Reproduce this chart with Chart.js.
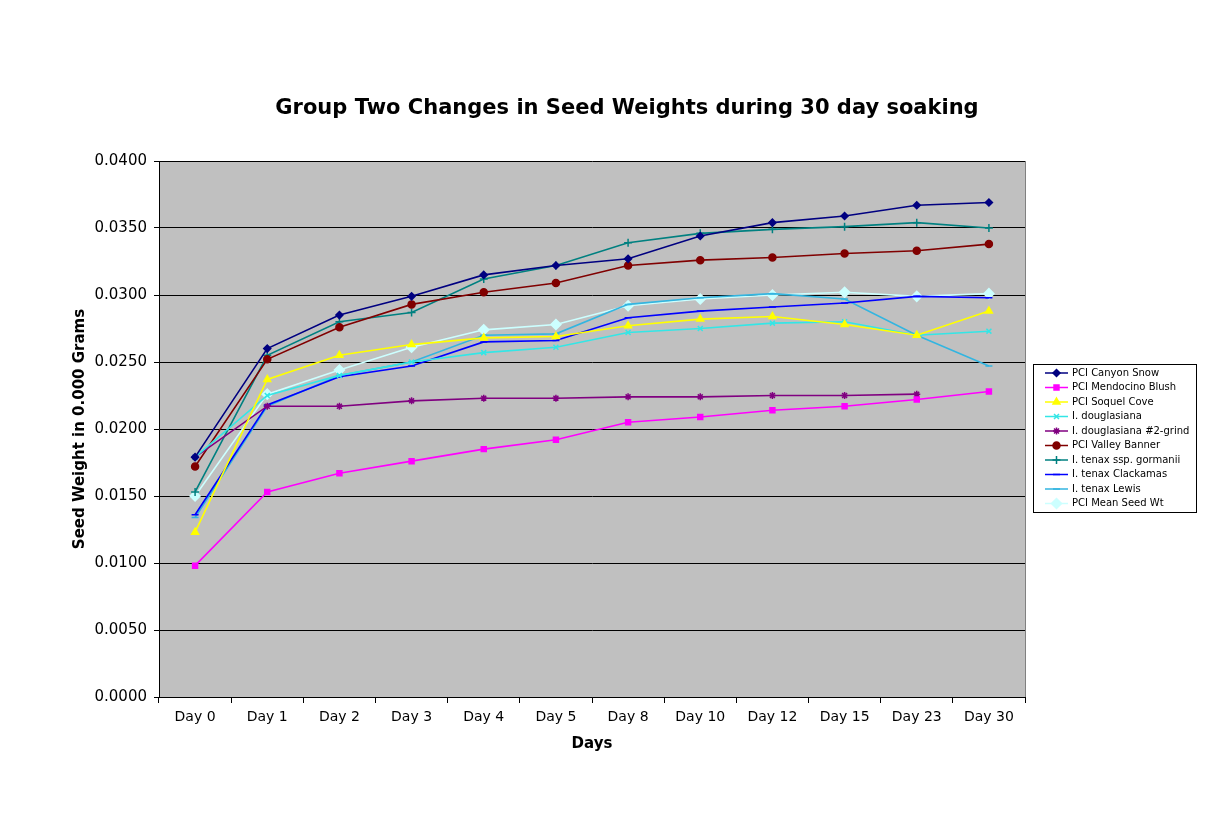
<!DOCTYPE html>
<html>
<head>
<meta charset="utf-8">
<title>Group Two Changes in Seed Weights during 30 day soaking</title>
<script src="https://cdn.jsdelivr.net/npm/chart.js@4"></script>
<style>
    html, body { margin: 0; padding: 0; background: #fff; }
    #wrap { position: relative; width: 1214px; height: 834px; }
    #title {
        position: absolute; left: 0; width: 1254px; top: 95px;
        text-align: center; font: bold 21px "DejaVu Sans", Verdana, sans-serif; color: #000;
    }
</style>
</head>
<body>
<div id="wrap">
    <canvas id="seedChart" width="1214" height="834"></canvas>
    <div id="title">Group Two Changes in Seed Weights during 30 day soaking</div>
</div>
<script>
// --- Chart data ---
const days = ['Day 0', 'Day 1', 'Day 2', 'Day 3', 'Day 4', 'Day 5', 'Day 8', 'Day 10', 'Day 12', 'Day 15', 'Day 23', 'Day 30'];

const canyonSnow     = [0.0179, 0.0260, 0.0285, 0.0299, 0.0315, 0.0322, 0.0327, 0.0344, 0.0354, 0.0359, 0.0367, 0.0369];
const mendocinoBlush = [0.0098, 0.0153, 0.0167, 0.0176, 0.0185, 0.0192, 0.0205, 0.0209, 0.0214, 0.0217, 0.0222, 0.0228];
const soquelCove     = [0.0123, 0.0237, 0.0255, 0.0263, 0.0268, 0.0269, 0.0277, 0.0282, 0.0284, 0.0278, 0.0270, 0.0288];
const douglasiana    = [0.0179, 0.0225, 0.0240, 0.0250, 0.0257, 0.0261, 0.0272, 0.0275, 0.0279, 0.0280, 0.0270, 0.0273];
const douglasGrind   = [0.0179, 0.0217, 0.0217, 0.0221, 0.0223, 0.0223, 0.0224, 0.0224, 0.0225, 0.0225, 0.0226, null];
const valleyBanner   = [0.0172, 0.0252, 0.0276, 0.0293, 0.0302, 0.0309, 0.0322, 0.0326, 0.0328, 0.0331, 0.0333, 0.0338];
const tenaxGormanii  = [0.0153, 0.0255, 0.0280, 0.0287, 0.0312, 0.0322, 0.0339, 0.0346, 0.0349, 0.0351, 0.0354, 0.0350];
const tenaxClackamas = [0.0136, 0.0218, 0.0239, 0.0247, 0.0265, 0.0266, 0.0283, 0.0288, 0.0291, 0.0294, 0.0299, 0.0298];
const tenaxLewis     = [0.0134, 0.0217, 0.0240, 0.0250, 0.0270, 0.0271, 0.0293, 0.0298, 0.0301, 0.0297, 0.0270, 0.0247];
const meanSeedWt     = [0.0150, 0.0226, 0.0244, 0.0261, 0.0274, 0.0278, 0.0292, 0.0297, 0.0300, 0.0302, 0.0299, 0.0301];

const yTicks = ['0.0000', '0.0050', '0.0100', '0.0150', '0.0200', '0.0250', '0.0300', '0.0350', '0.0400'];

const FONT = '"DejaVu Sans", Verdana, sans-serif';

function series(label, data, color, pointStyle, radius, fill) {
    return {
        label: label,
        data: data,
        borderColor: color,
        backgroundColor: color,
        pointBackgroundColor: fill || color,
        pointBorderColor: color,
        pointStyle: pointStyle,
        pointRadius: radius,
        pointBorderWidth: 1.5,
        borderWidth: 1.6,
        tension: 0,
        spanGaps: false
    };
}

const datasets = [
    series('PCI Canyon Snow', canyonSnow, '#000080', 'rectRot', 3.5),
    series('PCI Mendocino Blush', mendocinoBlush, '#FF00FF', 'rect', 3.5),
    series('PCI Soquel Cove', soquelCove, '#FFFF00', 'triangle', 4),
    series('I. douglasiana', douglasiana, '#33E6E6', 'crossRot', 3.5),
    series('I. douglasiana #2-grind', douglasGrind, '#800080', 'star', 3.5),
    series('PCI Valley Banner', valleyBanner, '#800000', 'circle', 3.5),
    series('I. tenax ssp. gormanii', tenaxGormanii, '#008080', 'cross', 4),
    series('I. tenax Clackamas', tenaxClackamas, '#0000FF', 'line', 3.5),
    series('I. tenax Lewis', tenaxLewis, '#33B5E0', 'line', 3.5),
    series('PCI Mean Seed Wt', meanSeedWt, '#CCFFFF', 'rectRot', 5)
];

// --- Plot area background and border ---
const plotArea = {
    id: 'plotArea',
    beforeDraw(chart) {
        const { ctx, chartArea: a } = chart;
        ctx.save();
        ctx.fillStyle = '#fff';
        ctx.fillRect(0, 0, chart.width, chart.height);
        ctx.fillStyle = '#C0C0C0';
        ctx.fillRect(a.left, a.top, a.width, a.height);
        ctx.restore();
    },
    afterDraw(chart) {
        const { ctx, chartArea: a } = chart;
        ctx.save();
        ctx.strokeStyle = '#808080';
        ctx.lineWidth = 1;
        ctx.beginPath();
        ctx.moveTo(a.right + 0.5, a.top);
        ctx.lineTo(a.right + 0.5, a.bottom);
        ctx.stroke();
        ctx.restore();
    }
};

// --- Boxed legend on the right ---
const boxLegend = {
    id: 'boxLegend',
    afterDraw(chart) {
        const ctx = chart.ctx;
        const x0 = 1033, y0 = 364, w = 163, h = 148, row = 14.5;
        ctx.save();
        ctx.fillStyle = '#fff';
        ctx.fillRect(x0, y0, w, h);
        ctx.strokeStyle = '#000';
        ctx.lineWidth = 1;
        ctx.strokeRect(x0 + 0.5, y0 + 0.5, w, h);
        ctx.font = '10px ' + FONT;
        ctx.textBaseline = 'middle';
        chart.data.datasets.forEach((ds, i) => {
            const y = y0 + 9 + i * row;
            ctx.strokeStyle = ds.borderColor;
            ctx.lineWidth = 1.5;
            ctx.beginPath();
            ctx.moveTo(x0 + 12, y);
            ctx.lineTo(x0 + 35, y);
            ctx.stroke();
            ctx.fillStyle = ds.pointBackgroundColor;
            ctx.strokeStyle = ds.pointBorderColor;
            Chart.helpers.drawPoint(ctx, {
                pointStyle: ds.pointStyle,
                radius: ds.pointRadius,
                rotation: 0,
                borderWidth: 1.5
            }, x0 + 23.5, y);
            ctx.fillStyle = '#000';
            ctx.fillText(ds.label, x0 + 39, y);
        });
        ctx.restore();
    }
};

new Chart(document.getElementById('seedChart'), {
    type: 'line',
    data: { labels: days, datasets: datasets },
    plugins: [plotArea, boxLegend],
    options: {
        responsive: false,
        animation: false,
        layout: { padding: { left: 67, right: 189, top: 161, bottom: 77 } },
        plugins: {
            legend: { display: false },
            tooltip: { enabled: false }
        },
        scales: {
            x: {
                offset: true,
                afterFit(scale) { scale.height = 60; },
                grid: {
                    offset: true,
                    drawOnChartArea: false,
                    drawTicks: true,
                    tickLength: 6,
                    color: '#000'
                },
                border: { color: '#000' },
                ticks: { color: '#000', font: { family: FONT, size: 14 }, padding: 6, maxRotation: 0 },
                title: {
                    display: true, text: 'Days', color: '#000',
                    font: { family: FONT, size: 15, weight: 'bold' },
                    padding: { top: 4, bottom: 4 }
                }
            },
            y: {
                min: 0,
                max: 0.04,
                afterFit(scale) { scale.width = 92; },
                afterBuildTicks(scale) {
                    scale.ticks = yTicks.map(t => ({ value: parseFloat(t) }));
                },
                grid: { color: '#000', lineWidth: 1, tickLength: 5 },
                border: { color: '#000' },
                ticks: {
                    color: '#000', padding: 7,
                    font: { family: FONT, size: 15 },
                    callback: (v, i) => yTicks[i]
                },
                title: {
                    display: true, text: 'Seed Weight in 0.000 Grams', color: '#000',
                    font: { family: FONT, size: 15, weight: 'bold' },
                    padding: { top: 4, bottom: 4 }
                }
            }
        }
    }
});
</script>
</body>
</html>
